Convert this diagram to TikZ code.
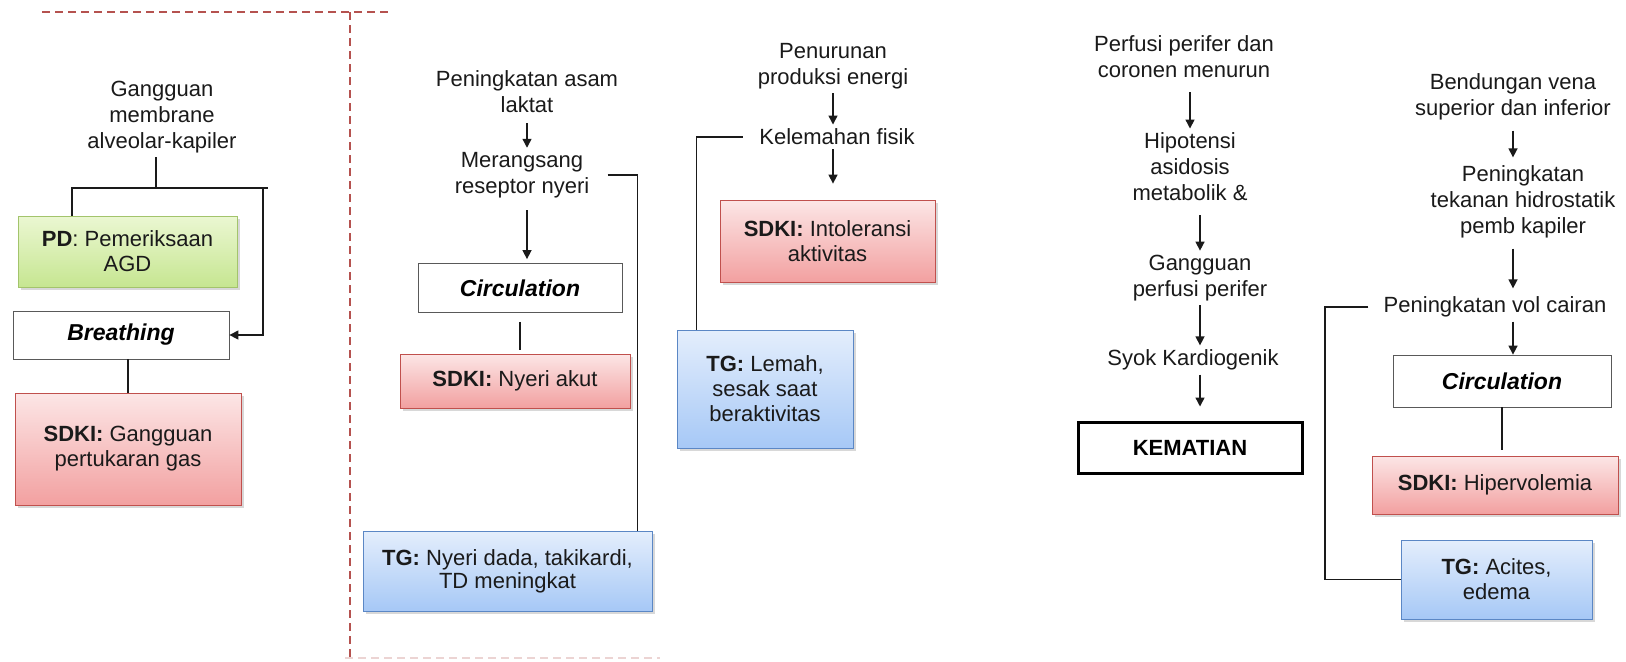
\documentclass[tikz,border=0pt]{standalone}
\usepackage{fontspec}
\setmainfont{Liberation Sans}
\usetikzlibrary{arrows.meta,positioning,calc,shadows}
\definecolor{inkdark}{HTML}{1A1A1A}
\definecolor{sepred}{HTML}{B5524F}
\definecolor{sdkiedge}{HTML}{C0504D}
\definecolor{sdkitop}{HTML}{FCE6E6}
\definecolor{sdkibot}{HTML}{F2A0A0}
\definecolor{tgedge}{HTML}{5B87C5}
\definecolor{tgtop}{HTML}{E4EEFC}
\definecolor{tgbot}{HTML}{A6C8F6}
\definecolor{pdedge}{HTML}{A3C46C}
\definecolor{pdtop}{HTML}{EBF7D2}
\definecolor{pdbot}{HTML}{C6E691}
\tikzset{notetext/.style={align=center,inner sep=2pt,text=inkdark,font=\fontsize{11}{13}\selectfont},planbox/.style={draw,align=center,inner sep=2pt,text=inkdark,font=\fontsize{11}{12.5}\selectfont,drop shadow={shadow xshift=1.5pt,shadow yshift=-1.5pt,opacity=0.3}},sdkibox/.style={planbox,draw=sdkiedge,top color=sdkitop,bottom color=sdkibot},tgbox/.style={planbox,draw=tgedge,top color=tgtop,bottom color=tgbot},pdbox/.style={planbox,draw=pdedge,top color=pdtop,bottom color=pdbot},abcbox/.style={draw=black!65,fill=white,align=center,inner sep=2pt,font=\fontsize{11.5}{13}\selectfont},endbox/.style={draw=black,line width=1.5pt,fill=white,align=center,font=\fontsize{11}{13}\selectfont},flowline/.style={draw=inkdark,line width=0.7pt},flowarr/.style={flowline,-{Triangle[length=4.5pt,width=4.5pt]}},sepline/.style={draw=sepred,line width=0.6pt,dash pattern=on 4pt off 2.5pt}}

\begin{document}
\begin{tikzpicture}[x=0.5pt,y=-0.5pt]
\fill[white] (0,0) rectangle (1626,661);
\useasboundingbox (0,0) rectangle (1626,661);
% separators
\draw[sepline] (42,12) -- (390,12);
\draw[sepline] (350,12) -- (350,661);
\draw[sepline,draw=sepred!25] (345,658) -- (660,658);
% breathing
\node[notetext] (gam) at (162,117) {Gangguan\\membrane\\alveolar-kapiler};
\node[pdbox,minimum width=109.5pt,minimum height=35.5pt] (pd) at (127.5,251.5) {\textbf{PD}: Pemeriksaan\\AGD};
\node[abcbox,minimum width=108pt,minimum height=24pt] (breath) at (121,335) {\textbf{\textit{Breathing}}};
\node[sdkibox,minimum width=113pt,minimum height=56pt] (gas) at (128,449) {\textbf{SDKI:} Gangguan\\pertukaran gas};
\coordinate (splitL) at (72,188);
\coordinate (splitM) at (156,188);
\coordinate (splitR) at (263,188);
\draw[flowline] (gam.south -| splitM) -- (splitM);
\draw[flowline] (pd.north -| splitL) -- (splitL) -- (splitR) -- ++(5,0);
\draw[flowarr] (splitR) |- (breath.east);
\draw[flowline] (breath.south -| gas.north) -- (gas.north);
% circulation (nyeri)
\node[notetext] (laktat) at (527,92) {Peningkatan asam\\laktat};
\node[notetext] (reseptor) at (522,175) {Merangsang\\reseptor nyeri};
\node[abcbox,minimum width=102pt,minimum height=24.5pt] (circA) at (520,288) {\textbf{\textit{Circulation}}};
\node[sdkibox,minimum width=115pt,minimum height=27pt] (nyeri) at (515,381) {\textbf{SDKI:} Nyeri akut};
\node[tgbox,minimum width=144.5pt,minimum height=40pt,font=\fontsize{11}{11.5}\selectfont] (dada) at (507.5,571) {\textbf{TG:} Nyeri dada, takikardi,\\TD meningkat};
\draw[flowarr,shorten <=3pt] (laktat.south) -- (reseptor.north -| laktat.south);
\draw[flowarr,shorten <=4pt,shorten >=2pt] (reseptor.south -| laktat.south) -- (circA.north -| laktat.south);
\draw[flowline,shorten <=4.5pt,shorten >=2pt] (circA.south) -- (nyeri.north -| circA.south);
\draw[flowline,shorten <=7pt] (reseptor.east) -| ([xshift=-7.5pt]dada.north east);
% aktivitas
\node[notetext] (energi) at (833,66) {Penurunan\\produksi energi};
\node[notetext] (fisik) at (837,137) {Kelemahan fisik};
\node[sdkibox,minimum width=107.5pt,minimum height=41pt] (intol) at (827.5,241) {\textbf{SDKI:} Intoleransi\\aktivitas};
\node[tgbox,minimum width=88pt,minimum height=59pt] (lemah) at (765,389) {\textbf{TG:} Lemah,\\sesak saat\\beraktivitas};
\draw[flowarr] (energi.south) -- (fisik.north -| energi.south);
\draw[flowarr,shorten >=8pt] (fisik.south -| energi.south) -- (intol.north -| energi.south);
\draw[flowline,shorten <=6pt] (fisik.west) -| ([xshift=10pt]lemah.north west);
% syok
\node[notetext] (perfusi) at (1184,57) {Perfusi perifer dan\\coronen menurun};
\node[notetext] (hipo) at (1190,167) {Hipotensi\\asidosis\\metabolik \&};
\node[notetext] (gperf) at (1200,278) {Gangguan\\perfusi perifer};
\node[notetext] (syok) at (1193,360) {Syok Kardiogenik};
\node[endbox,minimum width=112pt,minimum height=25.5pt] (mati) at (1190,447.5) {\textbf{KEMATIAN}};
\draw[flowarr,shorten <=5pt] (perfusi.south -| hipo.north) -- (hipo.north);
\draw[flowarr,shorten <=5pt] (hipo.south -| gperf.north) -- (gperf.north);
\draw[flowarr] (gperf.south) -- (syok.north -| gperf.south);
\draw[flowarr,shorten >=7pt] (syok.south -| gperf.south) -- (mati.north -| gperf.south);
% circulation (cairan)
\node[notetext] (vena) at (1513,97) {Bendungan vena\\superior dan inferior};
\node[notetext] (hidro) at (1523,202) {Peningkatan\\tekanan hidrostatik\\pemb kapiler};
\node[notetext] (cairan) at (1495,307) {Peningkatan vol cairan};
\node[abcbox,minimum width=109pt,minimum height=26pt] (circB) at (1502,381) {\textbf{\textit{Circulation}}};
\node[sdkibox,minimum width=123pt,minimum height=29pt] (hiper) at (1495,485) {\textbf{SDKI:} Hipervolemia};
\node[tgbox,minimum width=95.5pt,minimum height=39.5pt] (acites) at (1496.5,579.5) {\textbf{TG:} Acites,\\edema};
\coordinate (bendC) at (1325,307);
\draw[flowarr,shorten <=3pt,shorten >=2pt] (vena.south) -- (hidro.north -| vena.south);
\draw[flowarr,shorten <=3pt,shorten >=2pt] (hidro.south -| vena.south) -- (cairan.north -| vena.south);
\draw[flowarr] (cairan.south -| vena.south) -- (circB.north -| vena.south);
\draw[flowline,shorten >=3pt] (circB.south) -- (hiper.north -| circB.south);
\draw[flowline,shorten <=5.5pt] (cairan.west) -- (bendC) |- (acites.west);
\end{tikzpicture}
\end{document}
